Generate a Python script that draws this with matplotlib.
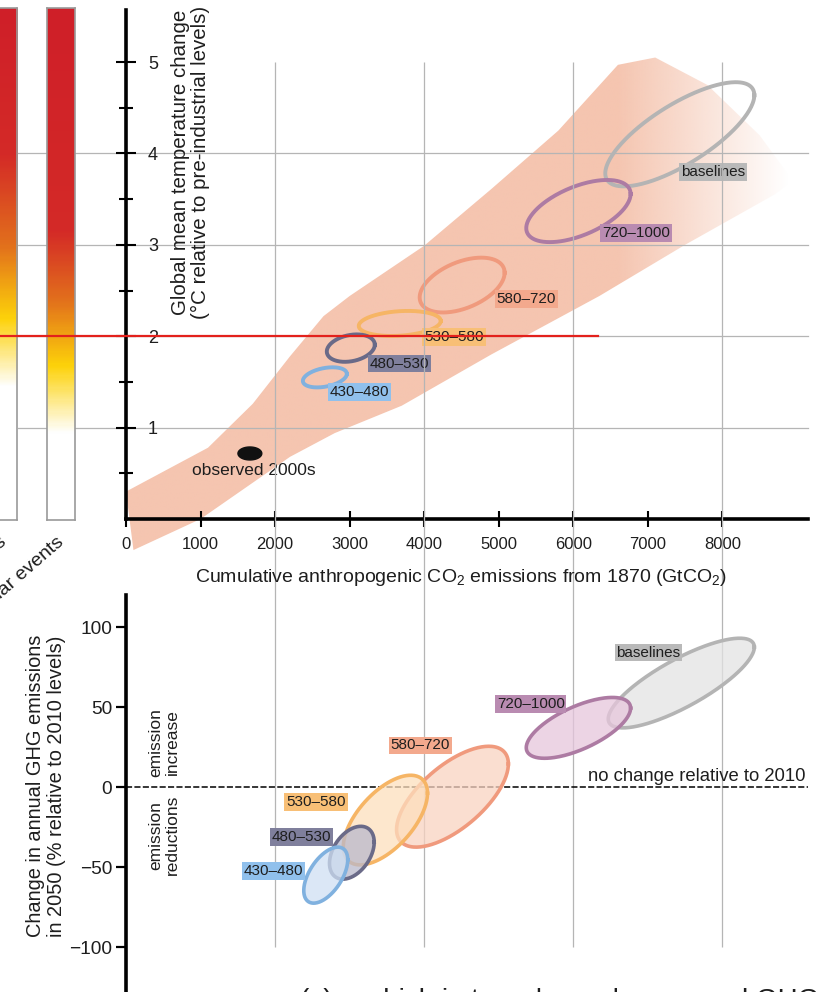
import numpy as np
import matplotlib
matplotlib.use("Agg")
import matplotlib.pyplot as plt
import matplotlib.transforms as mtransforms
from matplotlib.colors import LinearSegmentedColormap, to_rgb
from matplotlib.lines import Line2D
from matplotlib.patches import Polygon

plt.rcParams['font.family'] = ['Liberation Sans', 'DejaVu Sans']
plt.rcParams['mathtext.fontset'] = 'custom'
plt.rcParams['mathtext.rm'] = 'Liberation Sans'

# ---------------- data ----------------
emission_ticks = [0, 1000, 2000, 3000, 4000, 5000, 6000, 7000, 8000]
emission_grid = [2000, 4000, 6000, 8000]
temp_ticks = [1, 2, 3, 4, 5]
temp_minor = [0.5, 1.5, 2.5, 3.5, 4.5]
temp_grid = [1, 2, 3, 4]
ghg_ticks = [-100, -50, 0, 50, 100]

# spread of model results, cumulative CO2 vs warming (outline of the plume)
plume_x = [0, 1100, 1700, 2200, 2650, 3000, 4000, 4900, 5800, 6600, 7100, 7800,
           8500, 8950, 8700, 7500, 6350, 4900, 3700, 2800, 2200, 1000, 100]
plume_y = [0.30, 0.78, 1.26, 1.78, 2.22, 2.44, 2.99, 3.61, 4.25, 4.97, 5.05, 4.75,
           4.20, 3.70, 3.55, 3.00, 2.44, 1.80, 1.24, 0.94, 0.68, 0.00, -0.34]

scenarios = ['baselines', '720–1000', '580–720', '530–580', '480–530', '430–480']
edge_colors = ['#b4b4b4', '#ad7ba3', '#f09a7d', '#f6b565', '#6a6a88', '#80b1df']
fill_colors = ['#e3e3e3', '#e6c6dc', '#f9d3c1', '#fddfbd', '#b9b9cc', '#cfe0f4']
label_colors = ['#b9b9b9', '#b98bb1', '#f3a98d', '#f8bf76', '#7f7f9c', '#90c0ec']

# panel b ellipses: centre, half width, half height, tilt (correlation)
temp_cx = [7430, 6070, 4510, 3673, 3016, 2668]
temp_cy = [4.21, 3.37, 2.56, 2.14, 1.87, 1.55]
temp_rx = [1000, 700, 570, 550, 322, 295]
temp_ry = [0.57, 0.34, 0.30, 0.137, 0.15, 0.11]
temp_rho = [0.75, 0.55, 0.45, 0.2, 0.25, 0.35]
temp_label_x = [7880, 6840, 5370, 4400, 3670, 3130]
temp_label_y = [3.80, 3.13, 2.41, 1.99, 1.70, 1.39]

observed_x, observed_y = 1662, 0.717
observed_rx, observed_ry = 160, 0.071
observed_label_x, observed_label_y = 1716, 0.53

# panel c ellipses
ghg_cx = [7450, 6070, 4380, 3480, 3030, 2680]
ghg_cy = [65, 37, -6, -20.6, -41, -55]
ghg_rx = [980, 700, 750, 565, 300, 295]
ghg_ry = [28, 19, 31.5, 28, 16.5, 17.5]
ghg_rho = [0.8, 0.65, 0.65, 0.6, 0.4, 0.55]
ghg_label_x = [7010, 5430, 3950, 2550, 2350, 1980]
ghg_label_y = [84, 52, 26, -9.5, -31, -52.5]

# reasons for concern bars (warming level -> colour)
risk_names = ['Global aggregate impacts', 'Large-scale singular events']
risk_levels = [[0, 1.45, 2.2, 3.0, 4.0, 5.6],
               [0, 0.94, 1.68, 2.4, 3.16, 5.6]]
risk_colors = ['#ffffff', '#ffffff', '#fdd20a', '#e2701c', '#d42a27', '#cf1f29']


def ellipse(cx, cy, rx, ry, rho, n=240):
    t = np.linspace(0, 2 * np.pi, n)
    return cx + rx * np.cos(t), cy + ry * np.sin(t + np.arcsin(rho))


W, H = 819, 992


def px_rect(x0, y0, x1, y1):
    # pixel box of the picture -> figure fraction rect
    return [x0 / W, 1 - y1 / H, (x1 - x0) / W, (y1 - y0) / H]


fig = plt.figure(figsize=(W / 100, H / 100), dpi=100)
grid_color = '#b5b5b5'
text_color = '#1e1e1e'

# ---------------- panel b: warming vs cumulative CO2 ----------------
ax1 = fig.add_axes(px_rect(126, 10, 808, 519))
ax1.set_xlim(0, 9150)
ax1.set_ylim(0, 5.57)

plume = Polygon(np.column_stack([plume_x, plume_y]), closed=True,
                transform=ax1.transData, facecolor='none', edgecolor='none')
gx = np.linspace(0, 9150, 400)
rgba = np.zeros((2, gx.size, 4))
rgba[..., :3] = to_rgb('#f5c5b0')
rgba[..., 3] = np.clip((8900 - gx) / 2300, 0, 1)
im = ax1.imshow(rgba, extent=[0, 9150, -0.6, 5.57], aspect='auto', origin='lower',
                interpolation='bilinear', zorder=1)
im.set_clip_path(plume)
im.set_clip_box(fig.bbox)

for t in temp_grid:
    ax1.axhline(t, xmin=-126 / 682, xmax=1, color=grid_color, lw=0.9,
                clip_on=False, zorder=1.5)

for i, name in enumerate(scenarios):
    ex, ey = ellipse(temp_cx[i], temp_cy[i], temp_rx[i], temp_ry[i], temp_rho[i])
    ax1.plot(ex, ey, color=edge_colors[i], lw=2.8, zorder=3)
for i, name in enumerate(scenarios):
    ax1.text(temp_label_x[i], temp_label_y[i], name, fontsize=11, ha='center', va='center',
             color=text_color, zorder=5,
             bbox=dict(boxstyle='square,pad=0.12', fc=label_colors[i], ec='none'))

ox, oy = ellipse(observed_x, observed_y, observed_rx, observed_ry, 0)
ax1.fill(ox, oy, color='#111111', zorder=3)
ax1.text(observed_label_x, observed_label_y, 'observed 2000s', fontsize=12.5,
         ha='center', va='center', color=text_color, zorder=5)

ax1.set_xticks(emission_ticks)
ax1.set_yticks(temp_ticks)
ax1.set_yticks(temp_minor, minor=True)
ax1.tick_params(axis='x', direction='inout', length=12, width=1.5, labelsize=12, pad=7,
                labelcolor=text_color)
ax1.tick_params(axis='y', which='major', direction='inout', length=14, width=1.5,
                labelsize=13, pad=-30, labelcolor=text_color)
ax1.tick_params(axis='y', which='minor', direction='inout', length=10, width=1.5)
for side in ['top', 'right']:
    ax1.spines[side].set_visible(False)
for side in ['left', 'bottom']:
    ax1.spines[side].set_linewidth(2.6)
ax1.patch.set_visible(False)

ax1.text(0.094, 0.70, 'Global mean temperature change\n(°C relative to pre-industrial levels)',
         transform=ax1.transAxes, rotation=90, ha='center', va='center',
         fontsize=14.8, linespacing=1.05, color=text_color)
fig.text(461 / W, 1 - 577 / H,
         'Cumulative anthropogenic CO$_2$ emissions from 1870 (GtCO$_2$)',
         ha='center', va='center', fontsize=14, color=text_color)

# ---------------- panel a: reasons for concern bars ----------------
for j, left in enumerate([-11, 47]):
    bax = fig.add_axes(px_rect(left, 8, left + 28, 520))
    stops = np.array(risk_levels[j]) / 5.6
    cmap = LinearSegmentedColormap.from_list('risk', list(zip(stops, risk_colors)))
    vals = np.linspace(0, 5.6, 300)[:, None]
    bax.imshow(vals, cmap=cmap, vmin=0, vmax=5.6, extent=[0, 1, -0.01, 5.59],
               aspect='auto', origin='lower')
    bax.set_xlim(0, 1)
    bax.set_ylim(-0.01, 5.59)
    bax.set_xticks([])
    bax.set_yticks([])
    for sp in bax.spines.values():
        sp.set_color('#9a9a9a')
        sp.set_linewidth(1.2)
    fig.text((left + 18) / W, 1 - 543 / H, risk_names[j], rotation=41,
             rotation_mode='anchor', ha='right', va='baseline', fontsize=14,
             color=text_color)

# ---------------- panel c: annual GHG emissions in 2050 ----------------
ax2 = fig.add_axes(px_rect(126, 595, 808, 992))
ax2.set_xlim(0, 9150)
ax2.set_ylim(-128, 120)

# vertical grid lines run through both panels
top_disp = ax1.transData.transform((0, 5))[1]
grid_top = ax2.transData.inverted().transform((0, top_disp))[1]
ax2.vlines(emission_grid, -100, grid_top, colors=grid_color, lw=0.9,
           clip_on=False, zorder=0.5)

ax2.axhline(0, color='black', lw=1.1, ls=(0, (4, 1.5)), zorder=2)

for i, name in enumerate(scenarios):
    ex, ey = ellipse(ghg_cx[i], ghg_cy[i], ghg_rx[i], ghg_ry[i], ghg_rho[i])
    ax2.fill(ex, ey, facecolor=fill_colors[i], alpha=0.75, edgecolor='none', zorder=3)
    ax2.plot(ex, ey, color=edge_colors[i], lw=2.6, zorder=3)
for i, name in enumerate(scenarios):
    ax2.text(ghg_label_x[i], ghg_label_y[i], name, fontsize=11, ha='center', va='center',
             color=text_color, zorder=5,
             bbox=dict(boxstyle='square,pad=0.12', fc=label_colors[i], ec='none'))

ax2.text(0.997, 4, 'no change relative to 2010', ha='right', va='baseline',
         transform=mtransforms.blended_transform_factory(ax2.transAxes, ax2.transData),
         fontsize=13.3, color=text_color)
ax2.text(510, 28, 'emission\nincrease', rotation=90, ha='center', va='center',
         fontsize=12.5, linespacing=1.15, color=text_color)
ax2.text(510, -30, 'emission\nreductions', rotation=90, ha='center', va='center',
         fontsize=12.5, linespacing=1.15, color=text_color)

ax2.set_xticks([])
ax2.set_yticks(ghg_ticks)
ax2.set_yticklabels([f'{v}'.replace('-', '−') for v in ghg_ticks])
ax2.tick_params(axis='y', direction='out', length=7, width=1.6, labelsize=13.8, pad=3,
                labelcolor=text_color)
for side in ['top', 'right', 'bottom']:
    ax2.spines[side].set_visible(False)
ax2.spines['left'].set_linewidth(2.6)
ax2.patch.set_visible(False)

fig.text(46 / W, 1 - 786 / H,
         'Change in annual GHG emissions\nin 2050 (% relative to 2010 levels)',
         rotation=90, ha='center', va='center', fontsize=14.4, linespacing=1.1,
         color=text_color)

# title of the next panel, mostly below the crop
fig.text(300 / W, -16 / H,
         '(c) ...which in turn depend on annual GHG emissions over the next decades',
         fontsize=20, va='baseline', color=text_color)

# 2 degree line across the risk bars and panel b
red_tr = mtransforms.blended_transform_factory(fig.transFigure, ax1.transData)
fig.add_artist(Line2D([0, 598 / W], [2, 2], transform=red_tr, color='#e3211c', lw=1.6,
                      zorder=10))

fig.savefig('out.png', dpi=100)
